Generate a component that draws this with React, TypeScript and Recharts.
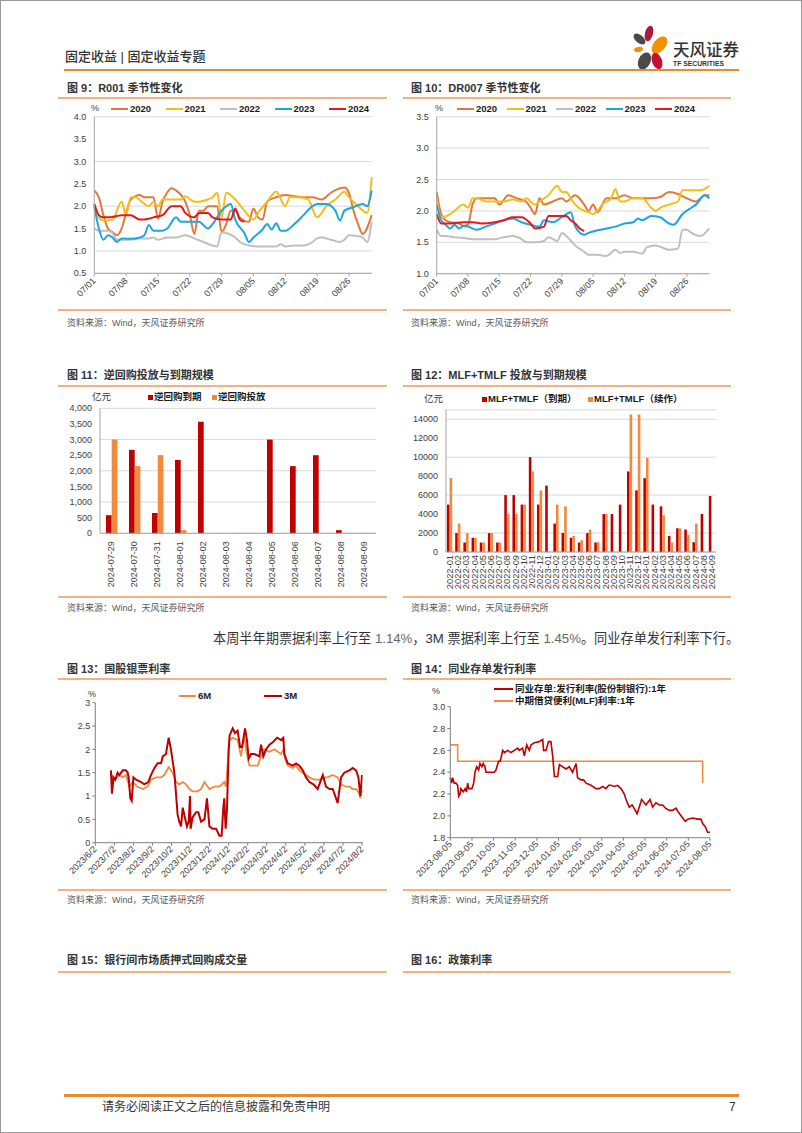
import { Bar, BarChart, CartesianGrid, Line, LineChart, XAxis, YAxis } from 'recharts'

type Pair = [number, number]

const FONT = '"Liberation Sans", Arial, "Noto Sans CJK SC", sans-serif'
const AXIS_TEXT = '#404040'
const AXIS_LINE = '#A6A6A6'
const GRID = '#D9D9D9'
const RULE = '#F4B183'
const DARK_RED = '#C00000'
const ORANGE = '#F08A3E'

// ---- 图 9 / 图 10: seasonal, day index 0 = 07/01 ... 61 = 08/31
const YEARS = ['2020', '2021', '2022', '2023', '2024']
const YEAR_COLORS = ['#E2783A', '#F5BE16', '#BFBFBF', '#1BA6DD', '#E4191B']
const SEASON_TICKS_R001 = [0.5, 1.0, 1.5, 2.0, 2.5, 3.0, 3.5, 4.0]
const SEASON_TICKS_DR007 = [1.0, 1.5, 2.0, 2.5, 3.0, 3.5]

const R001_2020: Pair[] = [[0,2.35],[1,2.2],[2,1.8],[3,1.5],[4,1.42],[5,1.35],[6,1.5],[7,1.85],[8,2.15],[9,2.22],[10,2.25],[11,2.2],[13,2.2],[14,1.72],[15,2.1],[16,2.3],[17,2.4],[18,2.35],[20,2.1],[21,1.8],[22,1.38],[23,1.9],[24,1.9],[25,2.0],[27,2.0],[28,1.42],[29,1.6],[30,1.9],[31,1.9],[32,1.75],[34,1.65],[35,1.95],[36,1.75],[37,1.7],[38,2.1],[40,2.2],[42,2.25],[44,2.22],[46,2.2],[48,2.2],[50,2.15],[52,2.3],[54,2.4],[55,2.42],[56,2.3],[57,1.9],[58,1.6],[59,1.38],[61,1.8]]
const R001_2021: Pair[] = [[0,2.05],[1,1.75],[2,1.68],[4,1.7],[6,2.1],[7,1.8],[8,2.2],[9,2.2],[11,2.05],[12,2.0],[13,2.1],[14,2.0],[15,2.15],[17,2.15],[19,2.15],[20,2.22],[22,2.1],[23,2.1],[25,2.15],[26,2.2],[27,2.3],[28,1.75],[29,2.3],[31,2.15],[33,1.9],[35,1.7],[36,1.85],[38,2.1],[40,2.33],[42,2.0],[43,2.2],[45,2.2],[47,2.15],[49,1.75],[51,2.0],[53,2.15],[55,2.32],[56,2.2],[58,2.0],[60,1.85],[61,2.65]]
const R001_2022: Pair[] = [[0,1.5],[1,1.45],[3,1.45],[4,1.4],[5,1.25],[6,1.25],[8,1.25],[10,1.28],[12,1.28],[13,1.3],[14,1.25],[16,1.3],[18,1.3],[20,1.35],[22,1.28],[24,1.2],[26,1.12],[27,1.1],[28,1.42],[29,1.4],[31,1.3],[32,1.2],[34,1.12],[36,1.1],[38,1.1],[40,1.1],[41,1.15],[42,1.1],[44,1.12],[46,1.12],[48,1.2],[49,1.28],[50,1.3],[52,1.25],[54,1.2],[55,1.25],[56,1.35],[58,1.33],[59,1.3],[60,1.2],[61,1.65]]
const R001_2023: Pair[] = [[0,2.0],[1,1.5],[2,1.25],[3,1.35],[4,1.3],[5,1.2],[6,1.28],[8,1.27],[10,1.3],[11,1.35],[12,1.58],[13,1.45],[15,1.45],[16,1.5],[18,1.75],[19,1.65],[21,1.65],[23,1.65],[25,1.5],[26,1.6],[28,1.9],[30,2.05],[31,1.7],[33,1.4],[34,1.2],[35,1.3],[37,1.48],[38,1.6],[39,1.48],[40,1.62],[41,1.45],[42,1.45],[44,1.6],[46,1.8],[48,2.0],[49,2.05],[51,2.05],[53,1.9],[54,1.68],[55,1.9],[57,1.98],[59,2.05],[60,2.0],[61,2.35]]
const R001_2024: Pair[] = [[0,2.05],[1,1.8],[2,1.75],[3,1.75],[5,1.78],[6,1.8],[8,1.8],[10,1.7],[12,1.72],[13,1.75],[15,1.8],[17,2.0],[19,2.0],[20,1.85],[22,1.75],[23,1.85],[25,1.85],[26,1.75],[28,1.7],[30,1.7],[31,1.95],[32,1.7],[33,1.65]]

const DR007_2020: Pair[] = [[0,2.3],[1,1.95],[2,1.85],[3,1.82],[5,1.8],[6,1.76],[7,1.78],[8,2.1],[9,2.2],[11,2.2],[13,2.2],[14,2.1],[16,2.25],[18,2.2],[20,2.15],[21,2.05],[22,1.95],[23,2.2],[24,2.1],[26,2.15],[28,2.2],[29,2.15],[31,2.25],[33,2.1],[34,2.0],[35,2.1],[36,1.98],[38,2.2],[40,2.2],[42,2.25],[44,2.2],[46,2.2],[48,2.2],[50,2.22],[52,2.3],[54,2.27],[56,2.2],[58,2.15],[60,2.25],[61,2.25]]
const DR007_2021: Pair[] = [[0,2.2],[1,1.9],[3,1.95],[4,2.0],[6,2.1],[7,2.05],[8,2.2],[9,2.2],[11,2.15],[13,2.15],[15,2.15],[17,2.18],[19,2.15],[20,2.2],[22,2.1],[23,2.15],[25,2.25],[27,2.4],[28,2.3],[29,2.3],[30,2.2],[31,2.1],[33,2.0],[34,1.98],[35,1.95],[36,2.0],[37,2.1],[39,2.2],[40,2.35],[41,2.15],[42,2.15],[44,2.2],[46,2.2],[48,2.05],[49,2.0],[50,2.05],[52,2.1],[54,2.15],[55,2.33],[57,2.33],[59,2.33],[60,2.35],[61,2.4]]
const DR007_2022: Pair[] = [[0,1.7],[1,1.6],[2,1.6],[4,1.58],[6,1.57],[8,1.55],[10,1.55],[12,1.55],[13,1.55],[15,1.58],[17,1.6],[19,1.55],[20,1.5],[22,1.5],[24,1.52],[25,1.58],[27,1.52],[28,1.65],[29,1.6],[31,1.45],[33,1.35],[34,1.3],[36,1.3],[38,1.28],[40,1.38],[41,1.33],[42,1.35],[44,1.35],[46,1.32],[47,1.42],[49,1.45],[51,1.4],[52,1.38],[54,1.4],[55,1.7],[56,1.7],[57,1.65],[59,1.6],[61,1.72]]
const DR007_2023: Pair[] = [[0,2.1],[1,1.85],[2,1.78],[3,1.72],[4,1.78],[5,1.72],[6,1.76],[7,1.75],[9,1.7],[11,1.75],[13,1.8],[15,1.85],[17,1.88],[19,1.82],[21,1.78],[23,1.75],[24,1.85],[26,1.82],[28,1.9],[30,1.98],[31,1.75],[33,1.62],[34,1.65],[38,1.72],[40,1.75],[42,1.8],[44,1.82],[45,1.88],[46,1.85],[48,1.92],[50,1.9],[52,1.8],[53,1.78],[55,1.95],[57,2.05],[58,2.1],[60,2.25],[61,2.2]]
const DR007_2024: Pair[] = [[0,1.95],[1,1.8],[3,1.8],[6,1.82],[8,1.82],[10,1.8],[13,1.82],[15,1.85],[17,1.9],[19,1.9],[21,1.8],[22,1.72],[24,1.75],[25,1.92],[27,1.92],[29,1.92],[30,1.85],[31,1.8],[32,1.72],[33,1.68]]

// ---- 图 11
const RR_DATES = ['2024-07-29','2024-07-30','2024-07-31','2024-08-01','2024-08-02','2024-08-03','2024-08-04','2024-08-05','2024-08-06','2024-08-07','2024-08-08','2024-08-09']
const RR_MATURE = [580, 2670, 650, 2350, 3570, 0, 0, 3000, 2150, 2500, 100, 0]
const RR_INJECT = [3000, 2150, 2500, 100, 0, 0, 0, 0, 0, 0, 0, 0]
const RR_TICKS = [0, 500, 1000, 1500, 2000, 2500, 3000, 3500, 4000]

// ---- 图 12
const MLF_MONTHS = ['2022-01','2022-02','2022-03','2022-04','2022-05','2022-06','2022-07','2022-08','2022-09','2022-10','2022-11','2022-12','2023-01','2023-02','2023-03','2023-04','2023-05','2023-06','2023-07','2023-08','2023-09','2023-10','2023-11','2023-12','2024-01','2024-02','2024-03','2024-04','2024-05','2024-06','2024-07','2024-08','2024-09']
const MLF_MATURE = [5000,2000,1000,1500,1000,2000,1000,6000,6000,5000,10000,5000,7000,3000,2000,1500,1000,2000,1000,4000,4000,5000,8500,6500,7790,5000,4810,1700,2500,2370,1030,4010,5910]
const MLF_ROLL = [7800,3000,2000,1500,1000,2000,1000,4000,4000,5000,8500,6500,0,5000,4810,1700,1250,2370,1030,4010,0,0,14500,14500,9950,0,3870,1000,2500,1820,3000,0,0]
const MLF_TICKS = [0, 2000, 4000, 6000, 8000, 10000, 12000, 14000]

// ---- 图 13: x = months since 2023/6/2
const BILL_LABELS = ['2023/6/2','2023/7/2','2023/8/2','2023/9/2','2023/10/2','2023/11/2','2023/12/2','2024/1/2','2024/2/2','2024/3/2','2024/4/2','2024/5/2','2024/6/2','2024/7/2','2024/8/2']
const BILL_3M: Pair[] = [[0.82,1.55],[0.875,1.05],[0.96,1.4],[1.05,1.35],[1.17,1.5],[1.26,1.45],[1.44,1.55],[1.61,1.55],[1.7,1.5],[1.75,1.4],[1.84,0.95],[1.91,0.9],[2.0,1.4],[2.14,1.35],[2.4,1.3],[2.57,1.25],[2.78,1.3],[2.92,1.45],[3.1,1.6],[3.27,1.7],[3.45,1.7],[3.54,1.85],[3.71,1.9],[3.85,2.25],[3.97,2.0],[4.15,1.5],[4.32,0.6],[4.41,0.45],[4.5,0.35],[4.59,0.75],[4.67,0.6],[4.81,0.35],[4.9,0.45],[4.97,1.0],[5.0,0.3],[5.11,0.55],[5.29,0.65],[5.41,0.65],[5.55,0.45],[5.73,0.5],[5.86,0.95],[5.99,0.35],[6.16,0.3],[6.34,0.3],[6.51,0.15],[6.63,0.15],[6.72,0.75],[6.77,0.95],[6.84,0.3],[6.91,0.7],[7.0,2.0],[7.05,2.3],[7.21,2.45],[7.33,2.35],[7.47,2.4],[7.6,2.05],[7.7,2.05],[7.86,2.45],[7.96,2.2],[8.05,1.8],[8.17,1.9],[8.35,1.9],[8.61,1.85],[8.7,2.1],[8.82,1.85],[8.96,2.0],[9.14,2.1],[9.31,2.15],[9.54,2.25],[9.75,2.2],[9.87,2.25],[9.92,1.9],[10.1,1.7],[10.36,1.65],[10.54,1.7],[10.71,1.65],[10.89,1.55],[11.06,1.4],[11.24,1.3],[11.45,1.25],[11.67,1.15],[11.94,1.45],[12.11,1.2],[12.29,1.15],[12.46,1.15],[12.72,0.85],[12.9,1.4],[13.07,1.5],[13.34,1.55],[13.51,1.6],[13.69,1.55],[13.81,1.4],[13.91,1.0],[14.0,1.45]]
const BILL_6M: Pair[] = [[0.82,1.5],[0.96,1.35],[1.26,1.45],[1.44,1.4],[1.61,1.45],[1.79,1.2],[1.96,1.3],[2.22,1.2],[2.49,1.15],[2.75,1.2],[2.92,1.35],[3.19,1.4],[3.45,1.4],[3.62,1.45],[3.85,1.62],[4.06,1.5],[4.24,1.3],[4.41,1.25],[4.59,1.3],[4.76,1.25],[4.94,1.15],[5.11,1.1],[5.37,1.1],[5.55,1.15],[5.73,1.3],[5.99,1.15],[6.25,1.2],[6.51,1.2],[6.77,1.3],[6.86,1.2],[7.04,2.2],[7.21,2.25],[7.47,2.2],[7.65,1.85],[7.82,2.3],[7.93,1.95],[8.09,1.65],[8.26,1.65],[8.52,1.65],[8.7,1.85],[8.87,2.0],[9.14,1.95],[9.4,2.0],[9.75,1.9],[9.87,2.0],[9.96,1.8],[10.1,1.65],[10.36,1.6],[10.54,1.65],[10.71,1.55],[10.89,1.5],[11.06,1.45],[11.24,1.4],[11.5,1.35],[11.76,1.35],[11.94,1.4],[12.2,1.4],[12.46,1.45],[12.72,1.4],[12.9,1.25],[13.16,1.2],[13.34,1.2],[13.51,1.15],[13.69,1.15],[13.86,1.05],[13.91,0.95],[14.0,1.14]]
const BILL_TICKS = [0, 0.5, 1, 1.5, 2, 2.5, 3]

// ---- 图 14: x = months since 2023-08-05
const NCD_LABELS = ['2023-08-05','2023-09-05','2023-10-05','2023-11-05','2023-12-05','2024-01-05','2024-02-05','2024-03-05','2024-04-05','2024-05-05','2024-06-05','2024-07-05','2024-08-05']
const NCD_1Y: Pair[] = [[0,2.35],[0.06,2.3],[0.11,2.35],[0.18,2.3],[0.26,2.3],[0.34,2.28],[0.39,2.18],[0.45,2.2],[0.49,2.25],[0.6,2.22],[0.69,2.25],[0.75,2.22],[0.8,2.3],[0.85,2.25],[1.0,2.25],[1.08,2.3],[1.14,2.4],[1.22,2.45],[1.31,2.42],[1.37,2.48],[1.46,2.45],[1.52,2.48],[1.6,2.45],[1.65,2.4],[1.88,2.4],[2.03,2.4],[2.11,2.42],[2.23,2.5],[2.31,2.5],[2.42,2.6],[2.5,2.58],[2.65,2.6],[2.8,2.58],[2.96,2.6],[3.11,2.62],[3.19,2.6],[3.34,2.62],[3.42,2.55],[3.53,2.65],[3.65,2.6],[3.73,2.65],[3.88,2.67],[4.11,2.68],[4.27,2.7],[4.31,2.6],[4.42,2.6],[4.54,2.68],[4.65,2.68],[4.73,2.55],[4.81,2.36],[4.96,2.36],[5.04,2.47],[5.19,2.45],[5.35,2.43],[5.5,2.45],[5.65,2.4],[5.81,2.48],[5.88,2.35],[6.04,2.33],[6.16,2.33],[6.27,2.3],[6.5,2.28],[6.73,2.25],[6.88,2.25],[7.04,2.27],[7.19,2.25],[7.32,2.28],[7.42,2.28],[7.58,2.27],[7.73,2.28],[7.89,2.25],[8.04,2.2],[8.12,2.15],[8.27,2.08],[8.4,2.1],[8.55,2.05],[8.63,2.02],[8.73,2.08],[8.84,2.15],[8.96,2.12],[9.04,2.1],[9.23,2.15],[9.35,2.08],[9.5,2.12],[9.66,2.1],[9.81,2.1],[9.94,2.07],[10.12,2.05],[10.27,2.05],[10.43,2.07],[10.55,2.03],[10.66,2.0],[10.86,1.95],[10.97,1.97],[11.2,1.98],[11.43,1.97],[11.58,1.97],[11.66,1.93],[11.78,1.9],[11.89,1.85],[12.0,1.85]]
const MLF_RATE: Pair[] = [[0,2.65],[0.34,2.5],[11.66,2.3]]
const NCD_TICKS = [1.8, 2.0, 2.2, 2.4, 2.6, 2.8, 3.0]

// ---- helpers
const diagTick = (labels?: string[]) => (props: any) => {
  const { x, y, payload } = props
  const text = labels ? labels[payload.value] : payload.value
  return (
    <text x={x} y={y} transform={`rotate(-45 ${x} ${y})`} textAnchor="end" dominantBaseline="central"
      fontSize={9} fill={AXIS_TEXT} fontFamily={FONT}>{text}</text>
  )
}

const vertTick = (size: number) => (props: any) => {
  const { x, y, payload } = props
  return (
    <text x={x} y={y} transform={`rotate(-90 ${x} ${y})`} textAnchor="end" dominantBaseline="central"
      fontSize={size} fill={AXIS_TEXT} fontFamily={FONT}>{payload.value}</text>
  )
}

const toRows = (pairs: Pair[]) => pairs.map(([x, y]) => ({ x, y }))

function seasonRows(series: Pair[][]) {
  return Array.from({ length: 62 }, (_, i) => {
    const d = new Date(2024, 6, 1 + i)
    const row: Record<string, string | number | null> = {
      d: `${String(d.getMonth() + 1).padStart(2, '0')}/${String(d.getDate()).padStart(2, '0')}`,
    }
    series.forEach((s, k) => {
      const p = s.find((q) => q[0] === i)
      row['y' + k] = p ? p[1] : null
    })
    return row
  })
}

type Box = { left: number; top: number; w: number; h: number; yw: number; mt: number; mr: number; xh: number }

function Txt({ x, y, size = 10, bold = false, weight, color = '#333', children }: any) {
  return (
    <div style={{ position: 'absolute', left: x, top: y - size * 0.7, fontSize: size, lineHeight: `${size * 1.4}px`,
      fontWeight: weight ?? (bold ? 700 : 400), color, whiteSpace: 'nowrap', fontFamily: FONT }}>{children}</div>
  )
}

function Rule({ x1, x2, y, color = RULE, t = 2 }: any) {
  return <div style={{ position: 'absolute', left: x1, top: y - t / 2, width: x2 - x1, height: t, background: color }} />
}

function LegendLine({ x, y, color, label, w = 17 }: any) {
  return (
    <>
      <div style={{ position: 'absolute', left: x, top: y - 1, width: w, height: 2.2, background: color }} />
      <Txt x={x + w + 2} y={y} size={9.5} bold color="#1a1a1a">{label}</Txt>
    </>
  )
}

function LegendBox({ x, y, color, label }: any) {
  return (
    <>
      <div style={{ position: 'absolute', left: x, top: y - 2.5, width: 5, height: 5, background: color }} />
      <Txt x={x + 6} y={y} size={9.5} bold color="#1a1a1a">{label}</Txt>
    </>
  )
}

function SeasonChart({ box, series, domain, ticks }: { box: Box; series: Pair[][]; domain: [number, number]; ticks: number[] }) {
  const rows = seasonRows(series)
  return (
    <div style={{ position: 'absolute', left: box.left, top: box.top }}>
      <LineChart width={box.w} height={box.h} data={rows} margin={{ top: box.mt, right: box.mr, bottom: 0, left: 0 }}>
        <CartesianGrid vertical={false} stroke={GRID} />
        <XAxis dataKey="d" interval={6} height={box.xh} tick={diagTick()} tickSize={3} tickMargin={3} stroke={AXIS_LINE} />
        <YAxis width={box.yw} domain={domain} ticks={ticks} tickLine={false} stroke={AXIS_LINE}
          tickFormatter={(v: number) => v.toFixed(1)} tick={{ fontSize: 9, fill: AXIS_TEXT, fontFamily: FONT }} />
        {YEARS.map((yr, k) => (
          <Line key={yr} dataKey={'y' + k} type="monotone" stroke={YEAR_COLORS[k]} strokeWidth={2} dot={false}
            connectNulls isAnimationActive={false} />
        ))}
      </LineChart>
    </div>
  )
}

function Logo() {
  return (
    <>
      <svg style={{ position: 'absolute', left: 628, top: 22 }} width={42} height={48}>
        <ellipse cx={20} cy={10.5} rx={4} ry={8} transform="rotate(15 20 10.5)" fill="#A51C3C" />
        <ellipse cx={30.5} cy={22} rx={6} ry={10} transform="rotate(40 30.5 22)" fill="#F39200" />
        <ellipse cx={10.5} cy={16} rx={4} ry={7} transform="rotate(-50 10.5 16)" fill="#4A4A4A" />
        <ellipse cx={9.5} cy={26.5} rx={4.5} ry={2.5} transform="rotate(-10 9.5 26.5)" fill="#F39200" />
        <ellipse cx={15.5} cy={38} rx={6} ry={9} transform="rotate(25 15.5 38)" fill="#4A4A4A" />
        <ellipse cx={28} cy={38} rx={5} ry={8.5} transform="rotate(-20 28 38)" fill="#C8102E" />
      </svg>
      <Txt x={672} y={50} size={16.5} color="#333" weight={500}>天风证券</Txt>
      <Txt x={672} y={63} size={6.8} bold color="#333">TF SECURITIES</Txt>
    </>
  )
}

export default function App() {
  const rr = RR_DATES.map((d, i) => ({ d, mature: RR_MATURE[i], inject: RR_INJECT[i] }))
  const mlf = MLF_MONTHS.map((m, i) => ({ m, mature: MLF_MATURE[i], roll: MLF_ROLL[i] }))

  const c9: Box = { left: 60, top: 100, w: 320, h: 210, yw: 33.3, mt: 15.7, mr: 9.3, xh: 37.7 }
  const c10: Box = { left: 405, top: 100, w: 315, h: 210, yw: 30.7, mt: 15.7, mr: 11.7, xh: 37.3 }

  return (
    <div style={{ position: 'absolute', left: 0, top: 0, width: 802, height: 1133, background: '#fff',
      fontFamily: FONT, boxSizing: 'border-box', border: '1px solid #9a9a9a', overflow: 'hidden' }}>
      {/* header */}
      <Txt x={64} y={56.5} size={13} color="#333" weight={500}>固定收益 | 固定收益专题</Txt>
      <Logo />
      <Rule x1={63} x2={738} y={68.5} color="#E98B2A" t={2} />

      {/* 图 9 */}
      <Txt x={66} y={88} size={11} bold>图 9：R001 季节性变化</Txt>
      <Rule x1={57} x2={386} y={97} />
      <SeasonChart box={c9} series={[R001_2020, R001_2021, R001_2022, R001_2023, R001_2024]}
        domain={[0.5, 4.0]} ticks={SEASON_TICKS_R001} />
      <Txt x={90} y={107} size={9} color={AXIS_TEXT}>%</Txt>
      {YEARS.map((yr, k) => <LegendLine key={yr} x={110 + k * 54.5} y={107.5} color={YEAR_COLORS[k]} label={yr} />)}
      <Rule x1={57} x2={386} y={309} />
      <Txt x={66} y={322} size={9} color="#595959">资料来源：Wind，天风证券研究所</Txt>

      {/* 图 10 */}
      <Txt x={410} y={88} size={11} bold>图 10：DR007 季节性变化</Txt>
      <Rule x1={401.5} x2={730} y={97} />
      <SeasonChart box={c10} series={[DR007_2020, DR007_2021, DR007_2022, DR007_2023, DR007_2024]}
        domain={[1.0, 3.5]} ticks={SEASON_TICKS_DR007} />
      <Txt x={434} y={107} size={9} color={AXIS_TEXT}>%</Txt>
      {YEARS.map((yr, k) => <LegendLine key={yr} x={456 + k * 49.5} y={107.5} color={YEAR_COLORS[k]} label={yr} />)}
      <Rule x1={401.5} x2={730} y={309} />
      <Txt x={410} y={322} size={9} color="#595959">资料来源：Wind，天风证券研究所</Txt>

      {/* 图 11 */}
      <Txt x={66} y={375} size={11} bold>图 11：逆回购投放与到期规模</Txt>
      <Rule x1={57} x2={386} y={385} />
      <div style={{ position: 'absolute', left: 55, top: 390 }}>
        <BarChart width={330} height={205} data={rr} margin={{ top: 17.3, right: 10, bottom: 0, left: 0 }} barGap={0} barSize={5.7}>
          <CartesianGrid vertical={false} stroke={GRID} />
          <XAxis dataKey="d" interval={0} height={62.7} tick={vertTick(9)} tickSize={0} tickMargin={8} stroke={AXIS_LINE} />
          <YAxis width={44} domain={[0, 4000]} ticks={RR_TICKS} tickLine={false} stroke={AXIS_LINE}
            tickFormatter={(v: number) => v.toLocaleString('en-US')} tick={{ fontSize: 9, fill: AXIS_TEXT, fontFamily: FONT }} />
          <Bar dataKey="mature" fill={DARK_RED} isAnimationActive={false} />
          <Bar dataKey="inject" fill={ORANGE} isAnimationActive={false} />
        </BarChart>
      </div>
      <Txt x={91} y={396} size={9.5} color="#333">亿元</Txt>
      <LegendBox x={147} y={396} color={DARK_RED} label="逆回购到期" />
      <LegendBox x={211} y={396} color={ORANGE} label="逆回购投放" />
      <Rule x1={57} x2={386} y={595.5} />
      <Txt x={66} y={607.5} size={9} color="#595959">资料来源：Wind，天风证券研究所</Txt>

      {/* 图 12 */}
      <Txt x={410} y={375} size={11} bold>图 12：MLF+TMLF 投放与到期规模</Txt>
      <Rule x1={401.5} x2={730} y={385} />
      <div style={{ position: 'absolute', left: 400, top: 395 }}>
        <BarChart width={325} height={200} data={mlf} margin={{ top: 13.8, right: 10, bottom: 0, left: 0 }} barGap={0} barSize={2.6}>
          <CartesianGrid vertical={false} stroke={GRID} />
          <XAxis dataKey="m" interval={0} height={44} tick={vertTick(9.3)} tickSize={0} tickMargin={3} stroke={AXIS_LINE} />
          <YAxis width={45} domain={[0, 15000]} ticks={MLF_TICKS} tickLine={false} stroke={AXIS_LINE}
            tick={{ fontSize: 9, fill: AXIS_TEXT, fontFamily: FONT }} />
          <Bar dataKey="mature" fill={DARK_RED} isAnimationActive={false} />
          <Bar dataKey="roll" fill={ORANGE} isAnimationActive={false} />
        </BarChart>
      </div>
      <Txt x={423} y={398} size={9.5} color="#333">亿元</Txt>
      <LegendBox x={481} y={398} color={DARK_RED} label="MLF+TMLF（到期）" />
      <LegendBox x={587} y={398} color={ORANGE} label="MLF+TMLF（续作）" />
      <Rule x1={401.5} x2={730} y={595.5} />
      <Txt x={410} y={607.5} size={9} color="#595959">资料来源：Wind，天风证券研究所</Txt>

      {/* paragraph */}
      <Txt x={212} y={638} size={13.2} color="#333">
        本周半年期票据利率上行至 <span style={{ color: '#666' }}>1.14%</span>，3M 票据利率上行至 <span style={{ color: '#666' }}>1.45%</span>。同业存单发行利率下行。
      </Txt>

      {/* 图 13 */}
      <Txt x={66} y={669} size={11} bold>图 13：国股银票利率</Txt>
      <Rule x1={57} x2={386} y={677.5} />
      <div style={{ position: 'absolute', left: 55, top: 690 }}>
        <LineChart width={315} height={200} margin={{ top: 11.7, right: 8.3, bottom: 0, left: 0 }}>
          <XAxis type="number" dataKey="x" domain={[0, 14.035]} ticks={BILL_LABELS.map((_, i) => i)} interval={0} allowDataOverflow
            height={48.3} tick={diagTick(BILL_LABELS)} tickSize={3} tickMargin={2} stroke="#7F7F7F" />
          <YAxis type="number" width={39.3} domain={[0, 3]} ticks={BILL_TICKS} interval={0} tickSize={3} stroke="#7F7F7F"
            tick={{ fontSize: 9, fill: AXIS_TEXT, fontFamily: FONT }} />
          <Line data={toRows(BILL_6M)} dataKey="y" type="linear" stroke={ORANGE} strokeWidth={1.8} dot={false} isAnimationActive={false} />
          <Line data={toRows(BILL_3M)} dataKey="y" type="linear" stroke={DARK_RED} strokeWidth={2} dot={false} isAnimationActive={false} />
        </LineChart>
      </div>
      <Txt x={87} y={693} size={9} color={AXIS_TEXT}>%</Txt>
      <LegendLine x={178} y={695} color={ORANGE} label="6M" w={17} />
      <LegendLine x={263} y={695} color={DARK_RED} label="3M" w={18} />
      <Rule x1={57} x2={386} y={889} />
      <Txt x={66} y={899} size={9} color="#595959">资料来源：Wind，天风证券研究所</Txt>

      {/* 图 14 */}
      <Txt x={410} y={669} size={11} bold>图 14：同业存单发行利率</Txt>
      <Rule x1={401.5} x2={730} y={677.5} />
      <div style={{ position: 'absolute', left: 405, top: 690 }}>
        <LineChart width={315} height={200} margin={{ top: 15.7, right: 11, bottom: 0, left: 0 }}>
          <XAxis type="number" dataKey="x" domain={[0, 12]} ticks={NCD_LABELS.map((_, i) => i)} interval={0}
            height={53.3} tick={diagTick(NCD_LABELS)} tickSize={3} tickMargin={2} stroke="#7F7F7F" />
          <YAxis type="number" width={44.3} domain={[1.8, 3.0]} ticks={NCD_TICKS} interval={0} tickSize={3} stroke="#7F7F7F"
            tickFormatter={(v: number) => v.toFixed(1)} tick={{ fontSize: 9, fill: AXIS_TEXT, fontFamily: FONT }} />
          <Line data={toRows(MLF_RATE)} dataKey="y" type="stepAfter" stroke={ORANGE} strokeWidth={1.6} dot={false} isAnimationActive={false} />
          <Line data={toRows(NCD_1Y)} dataKey="y" type="linear" stroke={DARK_RED} strokeWidth={1.6} dot={false} isAnimationActive={false} />
        </LineChart>
      </div>
      <Txt x={431} y={690} size={9} color={AXIS_TEXT}>%</Txt>
      <LegendLine x={493} y={688} color={DARK_RED} label="同业存单:发行利率(股份制银行):1年" w={19} />
      <LegendLine x={493} y={700} color={ORANGE} label="中期借贷便利(MLF)利率:1年" w={19} />
      <Rule x1={401.5} x2={730} y={889} />
      <Txt x={410} y={899} size={9} color="#595959">资料来源：Wind，天风证券研究所</Txt>

      {/* 图 15 / 16 titles */}
      <Txt x={66} y={960} size={11} bold>图 15：银行间市场质押式回购成交量</Txt>
      <Rule x1={57} x2={386} y={970.5} />
      <Txt x={410} y={960} size={11} bold>图 16：政策利率</Txt>
      <Rule x1={401.5} x2={730} y={970.5} />

      {/* footer */}
      <Rule x1={63} x2={738} y={1094} color="#E98B2A" t={3} />
      <Txt x={101} y={1106} size={12} color="#333">请务必阅读正文之后的信息披露和免责申明</Txt>
      <Txt x={728} y={1106} size={12} color="#333">7</Txt>
    </div>
  )
}
